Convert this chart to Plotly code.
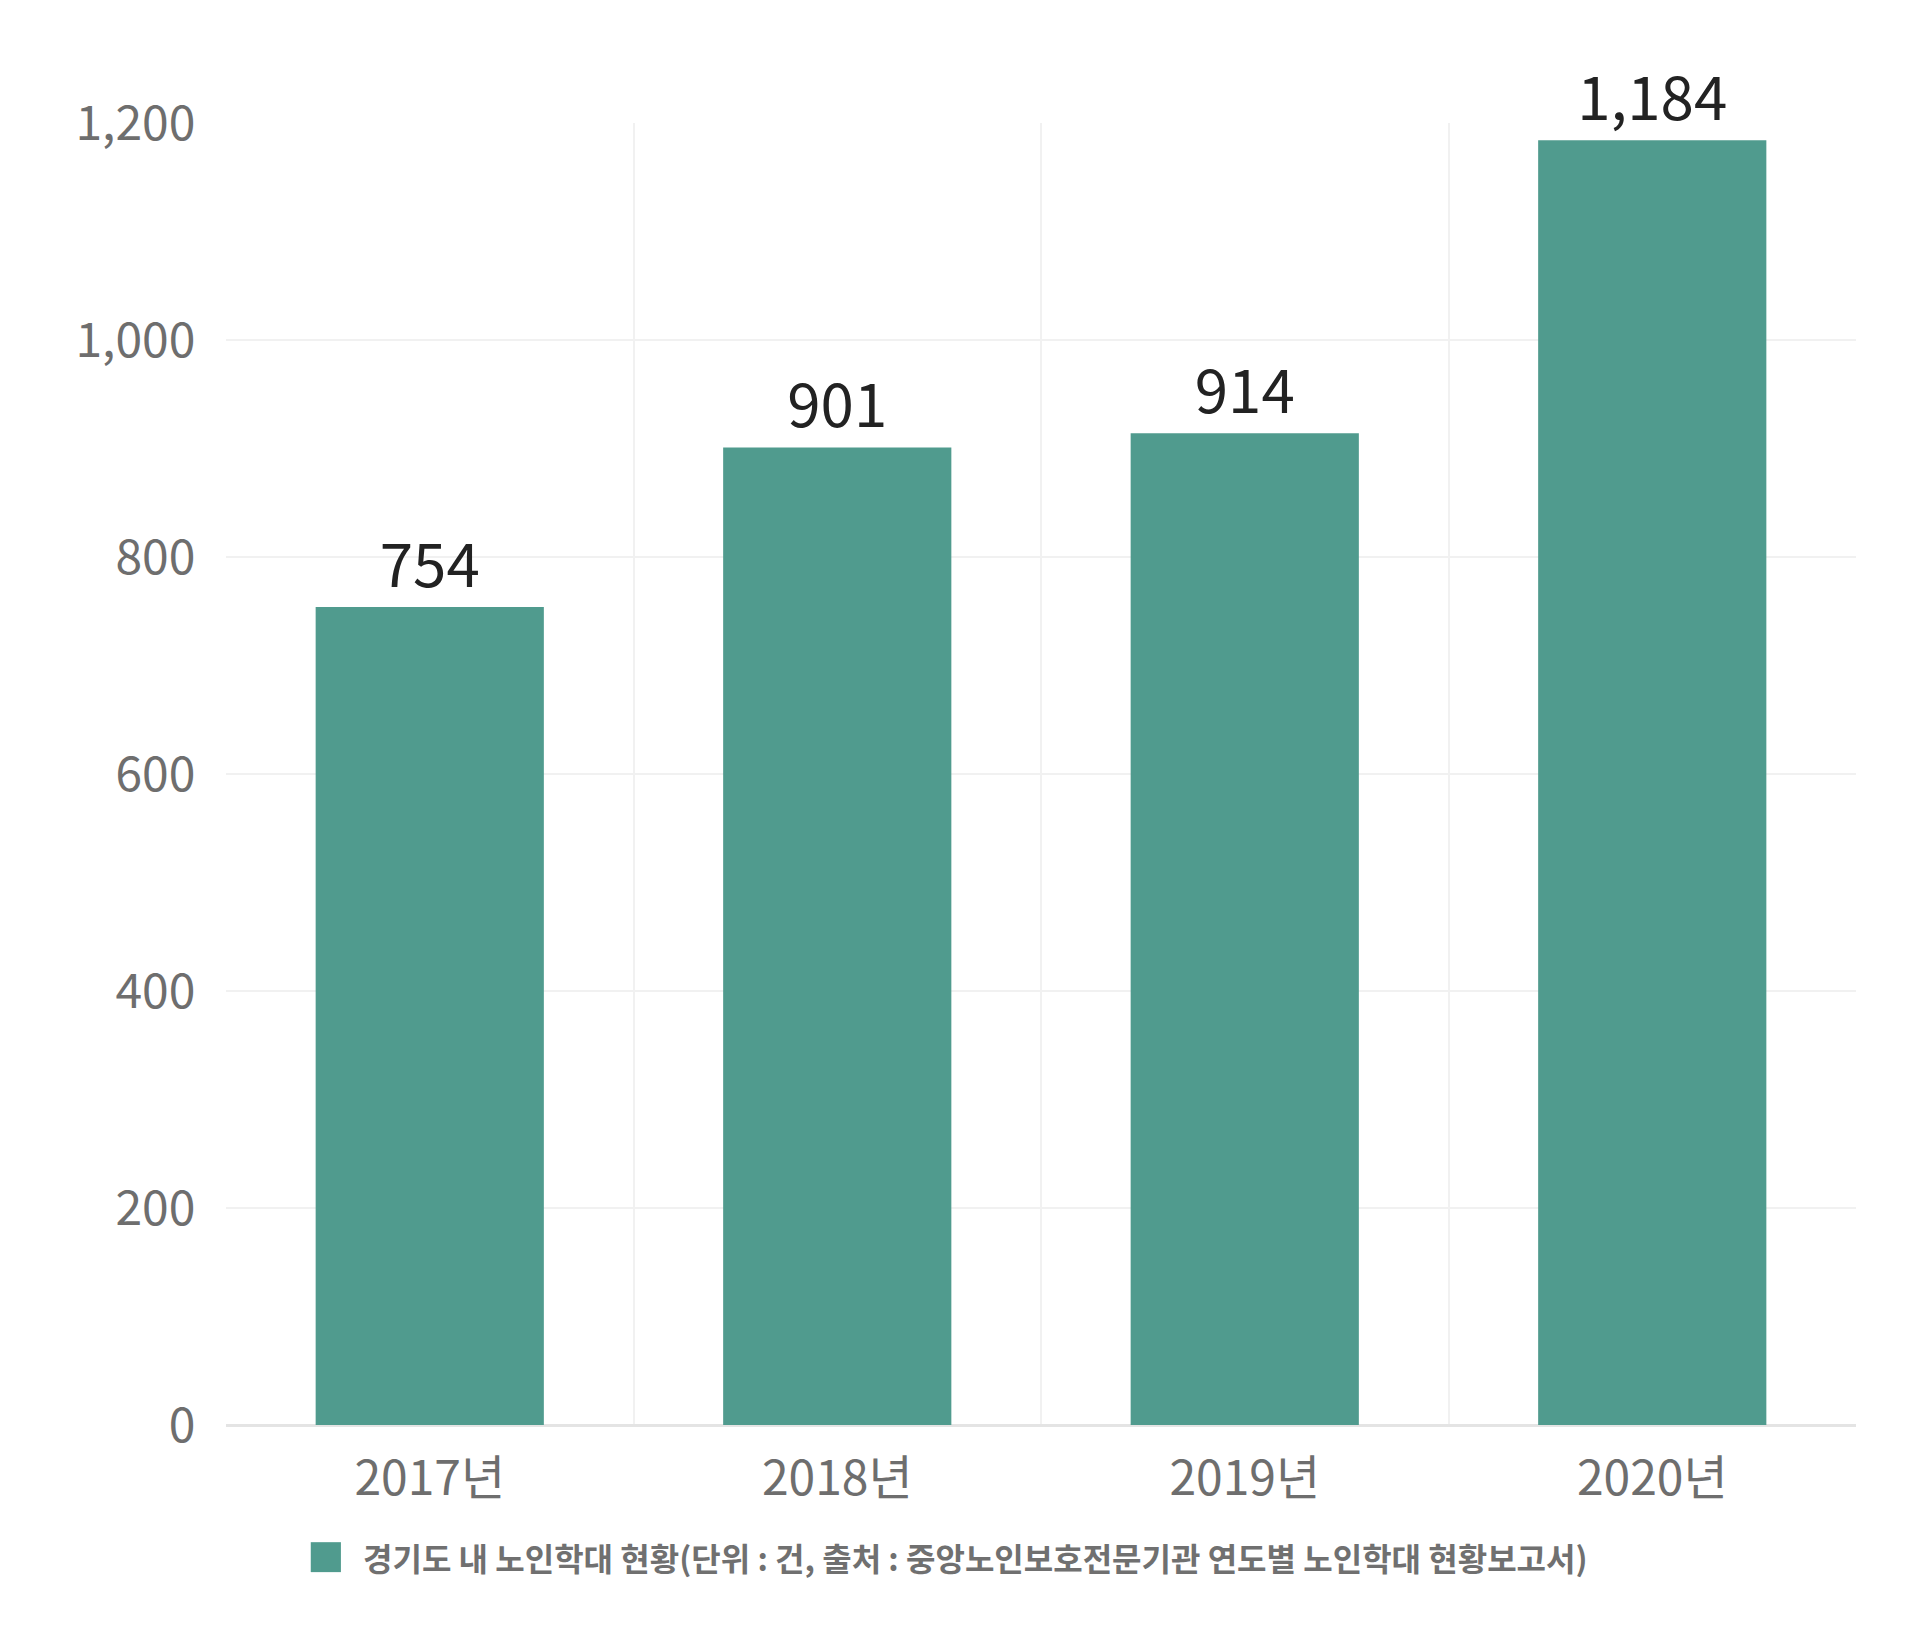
import plotly.graph_objects as go

# 경기도 내 노인학대 현황 (단위: 건)
years = ['2017년', '2018년', '2019년', '2020년']
cases = [754, 901, 914, 1184]
y_ticks = [0, 200, 400, 600, 800, 1000, 1200]
series_name = '경기도 내 노인학대 현황(단위 : 건, 출처 : 중앙노인보호전문기관 연도별 노인학대 현황보고서)'

bar_color = '#509B8E'
font_kr = 'Noto Sans CJK KR'

fig = go.Figure()
fig.add_trace(go.Bar(
    x=years,
    y=cases,
    name=series_name,
    marker_color=bar_color,
    marker_line_width=0,
    text=[f'{v:,}' for v in cases],
    textposition='outside',
    textfont=dict(family=font_kr, size=60, color='#222222'),
    cliponaxis=False,
    showlegend=False,
))

# légende dessinée à la main (carré + texte)
fig.add_shape(type='rect', xref='paper', yref='paper',
              x0=0.052, x1=0.0705, y0=-0.090, y1=-0.113,
              fillcolor=bar_color, line_width=0)
fig.add_annotation(text=series_name, xref='paper', yref='paper',
                   x=0.083, y=-0.1015, xanchor='left', yanchor='middle',
                   showarrow=False,
                   font=dict(family=font_kr, size=32, color='#707070', weight='bold'))

fig.update_layout(
    width=1920, height=1640,
    margin=dict(l=218, r=72, t=115, b=223),
    plot_bgcolor='white', paper_bgcolor='white',
    bargap=0.44,
    font=dict(family=font_kr, color='#6e6e6e'),
)
fig.update_xaxes(
    tickson='boundaries', showgrid=True, gridcolor='#f1f1f1', gridwidth=2,
    ticks='', ticklabelstandoff=21,
    tickfont=dict(family=font_kr, size=48, color='#6e6e6e'),
    showline=False,
)
fig.update_yaxes(
    range=[0, 1200], tickvals=y_ticks, tickformat=',',
    showgrid=True, gridcolor='#f1f1f1', gridwidth=2,
    zeroline=True, zerolinecolor='#e4e4e4', zerolinewidth=3,
    ticks='outside', ticklen=20, tickcolor='rgba(0,0,0,0)',
    tickfont=dict(family=font_kr, size=48, color='#6e6e6e'),
)

fig.write_html('out.html')
